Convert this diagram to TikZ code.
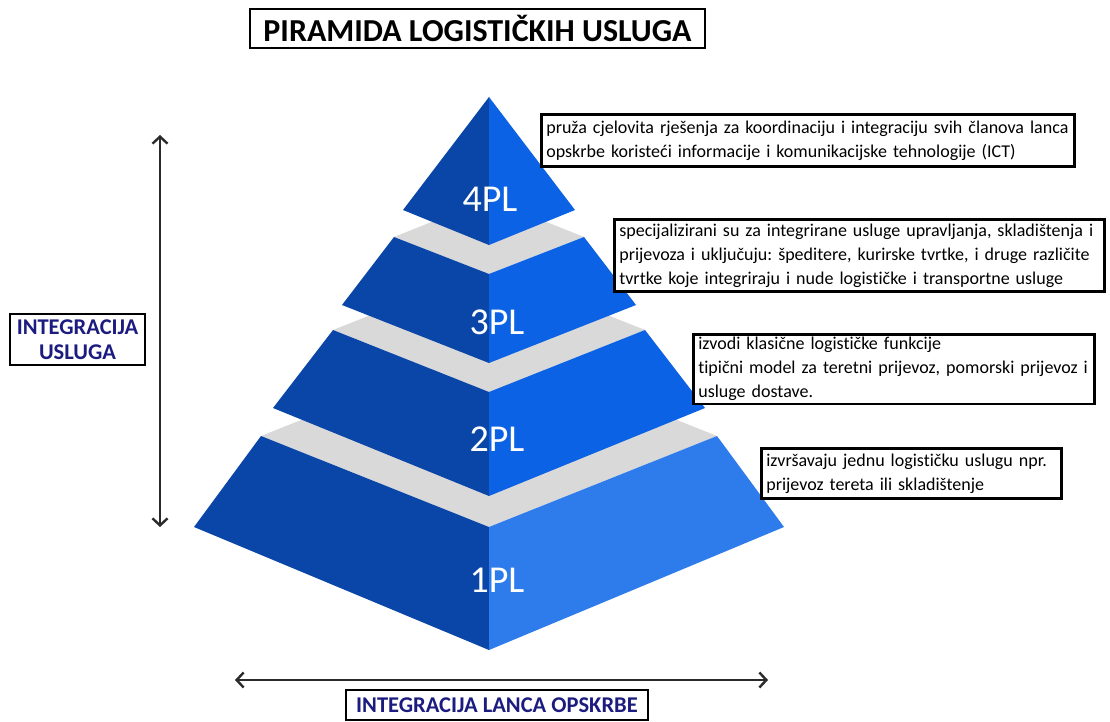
\documentclass[tikz,border=0pt]{standalone}
\usepackage{fontspec}
\setmainfont{Carlito}[Ligatures=NoCommon]
\usetikzlibrary{arrows.meta}
\definecolor{leftface}{HTML}{0A46A8}
\definecolor{rightface}{HTML}{0C62E4}
\definecolor{rightlow}{HTML}{2E7BEB}
\definecolor{topface}{HTML}{D9D9D9}
\definecolor{navy}{HTML}{1C1C80}
\definecolor{arrowgrey}{HTML}{2A2A2A}
\tikzset{
  descbox/.style={draw=black, line width=2.6pt, fill=white, anchor=north west, align=left,
    inner xsep=5pt, inner ysep=3pt, font=\fontsize{18}{24}\selectfont},
  tierlabel/.style={text=white, font=\fontsize{38}{38}\selectfont},
  axisbox/.style={draw=black, line width=2.2pt, fill=white, text=navy, align=center,
    font=\bfseries\fontsize{22.5}{25}\selectfont},
  axisarrow/.style={draw=arrowgrey, line width=2.4pt, {Straight Barb[length=7pt,width=15pt]}-{Straight Barb[length=7pt,width=15pt]}}
}
\begin{document}
\frenchspacing
\begin{tikzpicture}[x=1pt,y=-1pt]
\useasboundingbox (0,0) rectangle (1110,722);
\fill[white] (0,0) rectangle (1110,722);

% ---- tier 1PL ----
\fill[topface] (261,436) -- (489,345) -- (717,436) -- (489,527) -- cycle;
\fill[leftface] (261,436) -- (489,527) -- (489,650) -- (194,527) -- cycle;
\fill[rightlow] (717,436) -- (489,527) -- (489,650) -- (784,527) -- cycle;
% ---- tier 2PL ----
\fill[topface] (333,330) -- (489,268) -- (645,330) -- (489,392) -- cycle;
\fill[leftface] (333,330) -- (489,392) -- (489,496) -- (273,408) -- cycle;
\fill[rightface] (645,330) -- (489,392) -- (489,496) -- (705,408) -- cycle;
% ---- tier 3PL ----
\fill[topface] (394,237) -- (489,199) -- (584,237) -- (489,274) -- cycle;
\fill[leftface] (394,237) -- (489,274) -- (489,363) -- (342,305) -- cycle;
\fill[rightface] (584,237) -- (489,274) -- (489,363) -- (636,305) -- cycle;
% ---- tier 4PL ----
\fill[leftface] (489,97) -- (489,245) -- (403,210) -- cycle;
\fill[rightface] (489,97) -- (489,245) -- (575,210) -- cycle;

% tier labels
\node[tierlabel] (l4) at (490,199) {4PL};
\node[tierlabel] (l3) at (497,322) {3PL};
\node[tierlabel] (l2) at (497,439) {2PL};
\node[tierlabel] (l1) at (497,580) {1PL};

% title
\node[draw=black, line width=2.2pt, minimum width=455pt, minimum height=39pt,
  font=\bfseries\fontsize{32}{32}\selectfont] (title) at (477.5,28.5) {PIRAMIDA LOGISTIČKIH USLUGA};

% descriptions
\node[descbox, text width=523pt, minimum height=52pt] (d4) at (540,113)
  {pruža cjelovita rješenja za koordinaciju i integraciju svih članova lanca\\
   opskrbe koristeći informacije i komunikacijske tehnologije (ICT)};
\node[descbox, text width=480pt, minimum height=72pt] (d3) at (613,218)
  {specijalizirani su za integrirane usluge upravljanja, skladištenja i\\
   prijevoza i uključuju: špeditere, kurirske tvrtke, i druge različite\\
   tvrtke koje integriraju i nude logističke i transportne usluge};
\node[descbox, text width=391pt, minimum height=67pt] (d2) at (692,333)
  {izvodi klasične logističke funkcije\\
   tipični model za teretni prijevoz, pomorski prijevoz i\\
   usluge dostave.};
\node[descbox, text width=290pt, minimum height=50pt] (d1) at (760,447)
  {izvršavaju jednu logističku uslugu npr.\\
   prijevoz tereta ili skladištenje};

% vertical axis
\coordinate (vtop) at (160,135);
\coordinate (vbot) at (160,527);
\draw[axisarrow] (vtop) -- (vbot);
\node[axisbox, minimum width=135pt, minimum height=51pt] (vlab) at (77.5,339.5)
  {INTEGRACIJA\\USLUGA};

% horizontal axis
\coordinate (hleft) at (235,680);
\coordinate (hright) at (768,680);
\draw[axisarrow] (hleft) -- (hright);
\node[axisbox, minimum width=302pt, minimum height=30pt] (hlab) at (497,705)
  {INTEGRACIJA LANCA OPSKRBE};
\end{tikzpicture}
\end{document}
